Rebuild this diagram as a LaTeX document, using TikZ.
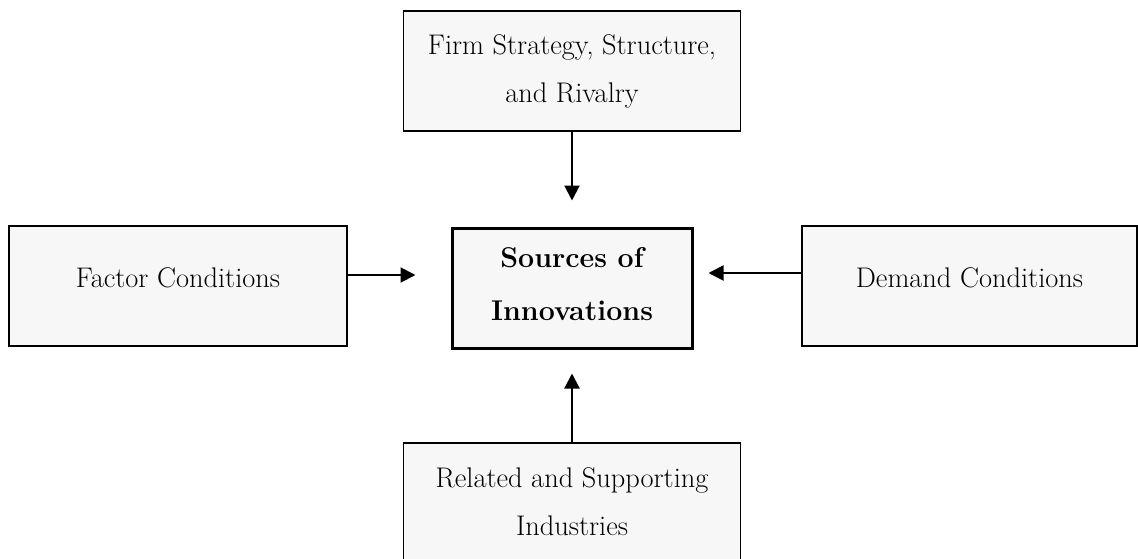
\documentclass[tikz,border=0pt]{standalone}
\usetikzlibrary{arrows.meta}
\tikzset{
  box/.style={draw=black, fill=boxgray, line width=1.5pt, inner sep=0pt, align=center,
    font=\fontsize{28.4}{48}\selectfont},
  mainbox/.style={draw=black, fill=boxgray, line width=3pt, inner sep=0pt, align=center,
    font=\fontsize{28.6}{53}\selectfont\bfseries},
  arr/.style={line width=2pt, -{Triangle[length=15pt,width=15pt]}}
}
\definecolor{boxgray}{HTML}{F7F7F7}
\newcommand{\dpt}[1]{\rule[-#1]{0pt}{0pt}}
\begin{document}
\begin{tikzpicture}[x=1pt,y=-1pt]
\useasboundingbox (0,0) rectangle (1138,559);
\clip (0,0) rectangle (1138,559);
\node[box, minimum width=337pt, minimum height=120pt] (fs) at (572,71) {Firm Strategy, Structure,\\and Rivalry};
\node[box, minimum width=338pt, minimum height=120pt] (fc) at (178,286) {Factor Conditions\dpt{16pt}};
\node[box, minimum width=335pt, minimum height=120pt] (dc) at (969.5,286) {Demand Conditions\dpt{16pt}};
\node[mainbox, minimum width=240pt, minimum height=120pt] (src) at (572,288) {Sources of\\Innovations\dpt{9pt}};
\node[box, minimum width=337pt, minimum height=124pt] (rs) at (572,505) {Related and Supporting\\Industries\dpt{7pt}};
\draw[arr, shorten >=26pt] (fs.south) -- (src.north);
\draw[arr, shorten >=24pt] (rs.north) -- (src.south);
\draw[arr, shorten >=35pt] ([yshift=11pt]fc.east) -- ([yshift=13pt]src.west);
\draw[arr, shorten >=15pt] ([yshift=13pt]dc.west) -- ([yshift=15pt]src.east);
\end{tikzpicture}
\end{document}
